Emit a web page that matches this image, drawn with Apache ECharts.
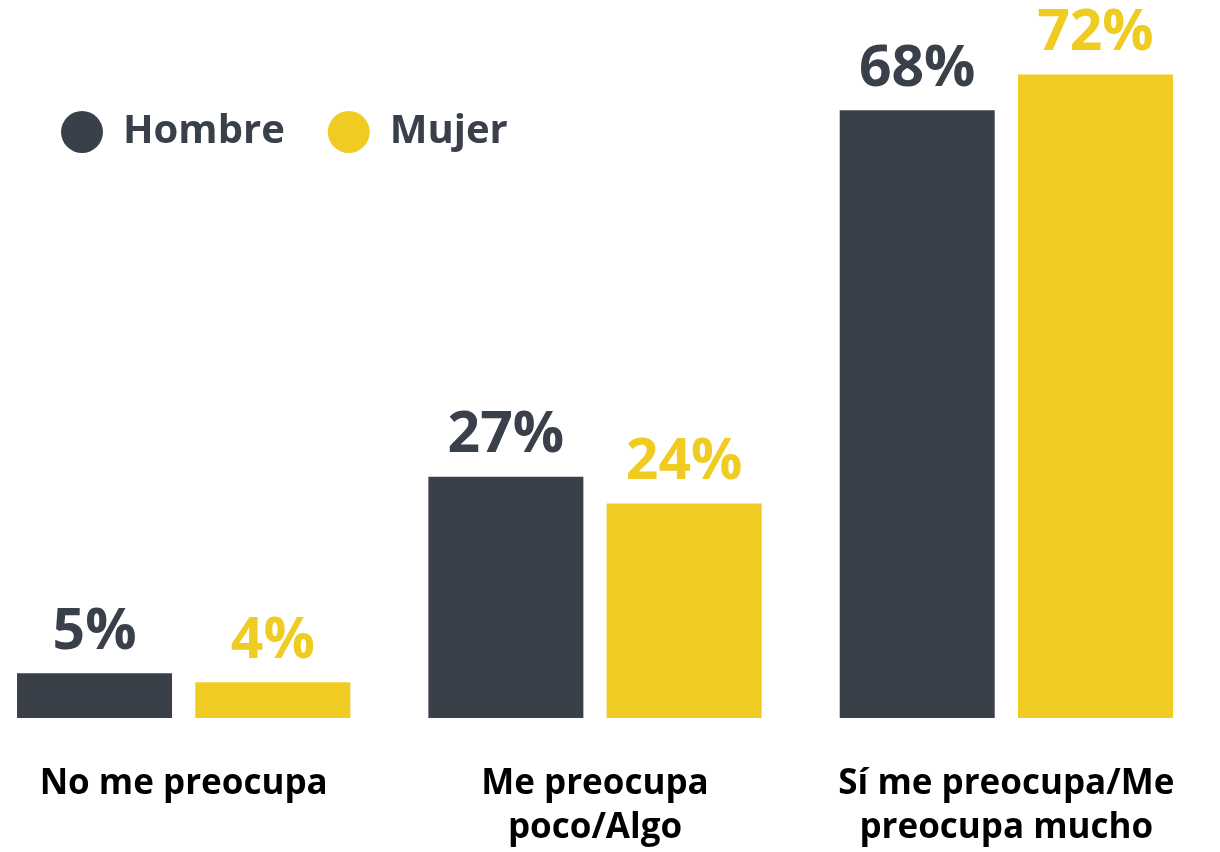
<!DOCTYPE html>
<html>
<head>
<meta charset="utf-8">
<script src="https://cdn.jsdelivr.net/npm/echarts@6/dist/echarts.min.js"></script>
<style>
  html, body { margin: 0; padding: 0; background: #ffffff; overflow: hidden; }
  /* el gráfico empieza un poco fuera de la ventana, como en el original */
  #main { width: 1242px; height: 852px; margin-left: -22px; }
</style>
</head>
<body>
<div id="main"></div>
<script>
// datos del gráfico
var categorias = ['No me preocupa', 'Me preocupa\npoco/Algo', 'Sí me preocupa/Me\npreocupa mucho'];
var hombre = [5, 27, 68];
var mujer = [4, 24, 72];

var oscuro = '#3a404a';
var amarillo = '#f0cb22';
var fuente = '"Open Sans", "DejaVu Sans", sans-serif';

var myChart = echarts.init(document.getElementById('main'));

myChart.setOption({
	animation: false,
	legend: {
		left: 83,
		top: 111,
		padding: 0,
		icon: 'circle',
		itemWidth: 42,
		itemHeight: 42,
		itemGap: 43,
		textStyle: {
			fontFamily: fuente,
			fontWeight: 'bold',
			fontSize: 40,
			color: oscuro,
			padding: [0, 0, 0, 15]
		},
		data: ['Hombre', 'Mujer']
	},
	grid: {
		left: 0,
		right: 8,
		top: 3,
		bottom: 134
	},
	xAxis: {
		type: 'category',
		data: categorias,
		axisLine: { show: false },
		axisTick: { show: false },
		axisLabel: {
			interval: 0,
			margin: 44,
			fontFamily: fuente,
			fontWeight: 'bold',
			fontSize: 35,
			lineHeight: 44,
			color: '#000000'
		}
	},
	yAxis: {
		type: 'value',
		min: 0,
		max: 80,
		show: false,
		splitLine: { show: false }
	},
	series: [{
		name: 'Hombre',
		type: 'bar',
		barWidth: 155,
		barGap: '15%',
		itemStyle: { color: oscuro },
		label: {
			show: true,
			position: 'top',
			distance: 12,
			formatter: '{c}%',
			fontFamily: fuente,
			fontWeight: 'bold',
			fontSize: 57,
			color: oscuro
		},
		data: hombre
	}, {
		name: 'Mujer',
		type: 'bar',
		barWidth: 155,
		itemStyle: { color: amarillo },
		label: {
			show: true,
			position: 'top',
			distance: 12,
			formatter: '{c}%',
			fontFamily: fuente,
			fontWeight: 'bold',
			fontSize: 57,
			color: amarillo
		},
		data: mujer
	}]
});
</script>
</body>
</html>
